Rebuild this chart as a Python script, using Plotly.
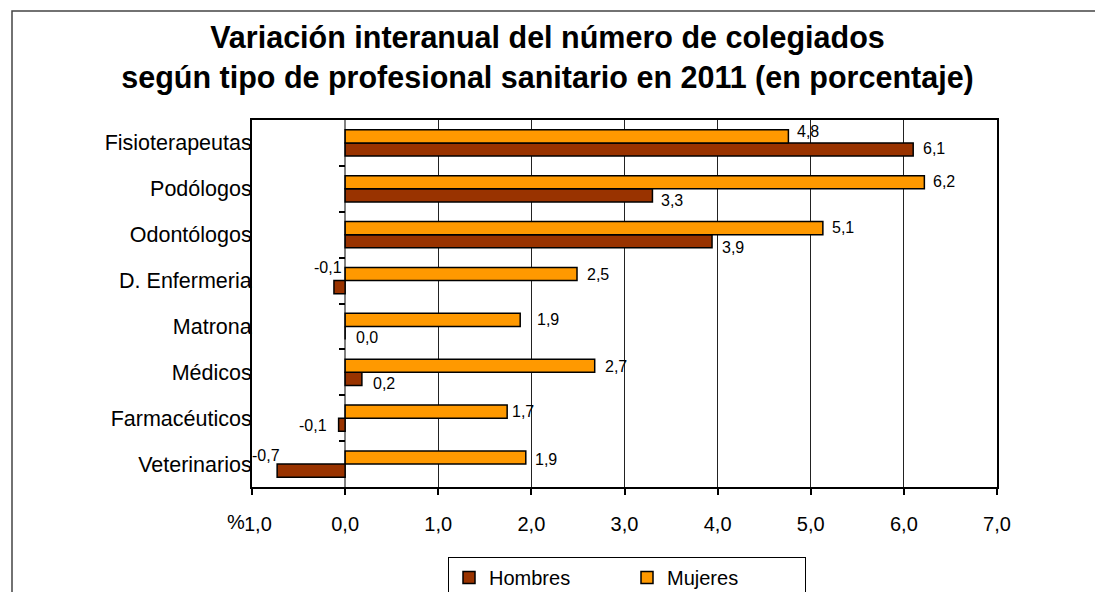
import plotly.graph_objects as go

# ---------------- data ----------------
categories = ["Fisioterapeutas", "Podólogos", "Odontólogos", "D. Enfermeria",
              "Matrona", "Médicos", "Farmacéuticos", "Veterinarios"]
hombres = [6.10, 3.30, 3.94, -0.12, 0.00, 0.18, -0.07, -0.73]
mujeres = [4.76, 6.22, 5.13, 2.49, 1.88, 2.68, 1.74, 1.94]
series_names = ["Hombres", "Mujeres"]
x_ticks = [-1, 0, 1, 2, 3, 4, 5, 6, 7]
axis_title = "%"
title_lines = ["Variación interanual del número de colegiados",
               "según tipo de profesional sanitario en 2011 (en porcentaje)"]

# ---------------- style ----------------
W, H = 1095, 592
ML, MR, MT, MB = 252, 98, 120, 105
PW, PH = W - ML - MR, H - MT - MB
BARGAP = 0.43
FONT = "Liberation Sans, Arial, sans-serif"
COL_H = "#993300"
COL_M = "#FF9900"
LABEL_GAP = 7
# per-label pixel nudges (dx right, dy down), top-to-bottom order
nudge_m = [(0, -5), (0, -1), (0, -1), (1, 0), (7.6, 0), (1, 1), (-4.4, 0), (0.3, 2)]
nudge_h = [(1, -1), (0, 5.5), (1, 6.5), (17, -19.7), (1.6, 5), (2.4, 5), (-3, 1), (12, -15)]


def px_x(px):
    return (px - ML) / PW


def px_y(py):
    return (H - MB - py) / PH


def fmt(v):
    return f"{v:.1f}".replace(".", ",")


xmin, xmax = x_ticks[0], x_ticks[-1]
n = len(categories)

fig = go.Figure()
fig.add_trace(go.Bar(name=series_names[0], y=categories, x=hombres, orientation="h",
                     marker=dict(color=COL_H, line=dict(color="black", width=1.5))))
fig.add_trace(go.Bar(name=series_names[1], y=categories, x=mujeres, orientation="h",
                     marker=dict(color=COL_M, line=dict(color="black", width=1.5))))
# empty helper trace so the overlaid tick axis at x=0 is drawn
fig.add_trace(go.Scatter(x=[None], y=[None], yaxis="y2", showlegend=False,
                         hoverinfo="skip", mode="markers"))

# data labels
band_px = PH / n
off_px = (1 - BARGAP) / 4 * band_px
annotations = []
for vals, sign, nudges in ((mujeres, 1, nudge_m), (hombres, -1, nudge_h)):
    for cat, v, (dx, dy) in zip(categories, vals, nudges):
        pos = v >= 0
        annotations.append(dict(
            x=v, y=cat, xref="x", yref="y", text=fmt(v), showarrow=False,
            xanchor="left" if pos else "right",
            xshift=(LABEL_GAP if pos else -LABEL_GAP) + dx,
            yshift=sign * off_px - dy,
            font=dict(family=FONT, size=16, color="black")))

annotations.append(dict(x=px_x(246), y=px_y(522), xref="paper", yref="paper",
                        text=axis_title, showarrow=False, xanchor="right", yanchor="middle",
                        bgcolor="white", borderpad=0,
                        font=dict(family=FONT, size=20, color="black")))

fig.update_layout(
    width=W, height=H,
    margin=dict(l=ML, r=MR, t=MT, b=MB, autoexpand=False),
    paper_bgcolor="white", plot_bgcolor="white",
    separators=",.",
    barmode="group", bargap=BARGAP, bargroupgap=0,
    font=dict(family=FONT, color="black"),
    title=dict(text="<br>".join(title_lines), x=0.5, xref="container",
               y=1 - 48 / H, yref="container", yanchor="top", xanchor="center",
               automargin=False,
               font=dict(family=FONT, size=30.5, color="black", weight="bold")),
    xaxis=dict(range=[xmin, xmax], tickvals=x_ticks, tickformat=".1f",
               showgrid=True, gridcolor="#222222", gridwidth=1,
               zeroline=True, zerolinecolor="#808080", zerolinewidth=2,
               showline=True, linecolor="black", linewidth=2, mirror=True,
               ticks="outside", ticklen=6, tickcolor="black", tickwidth=1.5,
               tickfont=dict(size=20), ticklabelstandoff=12, automargin=False),
    yaxis=dict(categoryorder="array", categoryarray=categories[::-1],
               range=[-0.5, n - 0.5], showgrid=False, zeroline=False,
               showline=True, linecolor="black", linewidth=2, mirror=True,
               ticks="", tickfont=dict(size=21.5), ticklabelstandoff=-6,
               automargin=False),
    yaxis2=dict(overlaying="y", anchor="free", side="left",
                position=(0 - xmin) / (xmax - xmin),
                range=[-0.5, n - 0.5], tickvals=[i + 0.5 for i in range(n - 1)],
                ticks="outside", ticklen=6, tickcolor="black", tickwidth=1.5,
                showticklabels=False, showgrid=False, zeroline=False, showline=False,
                automargin=False),
    legend=dict(orientation="h", x=px_x(448), xanchor="left", y=px_y(557), yanchor="top",
                bordercolor="black", borderwidth=1, font=dict(size=20),
                entrywidth=133, entrywidthmode="pixels", itemwidth=30,
                bgcolor="white"),
    annotations=annotations,
    shapes=[dict(type="rect", xref="paper", yref="paper",
                 x0=px_x(12), x1=px_x(W + 6), y0=px_y(11), y1=px_y(H + 6),
                 line=dict(color="#444444", width=1.5), layer="below")],
)

fig.write_html("out.html",
               config={"displayModeBar": False},
               post_script="document.body.style.margin='0';"
                           "document.body.style.overflow='hidden';")
